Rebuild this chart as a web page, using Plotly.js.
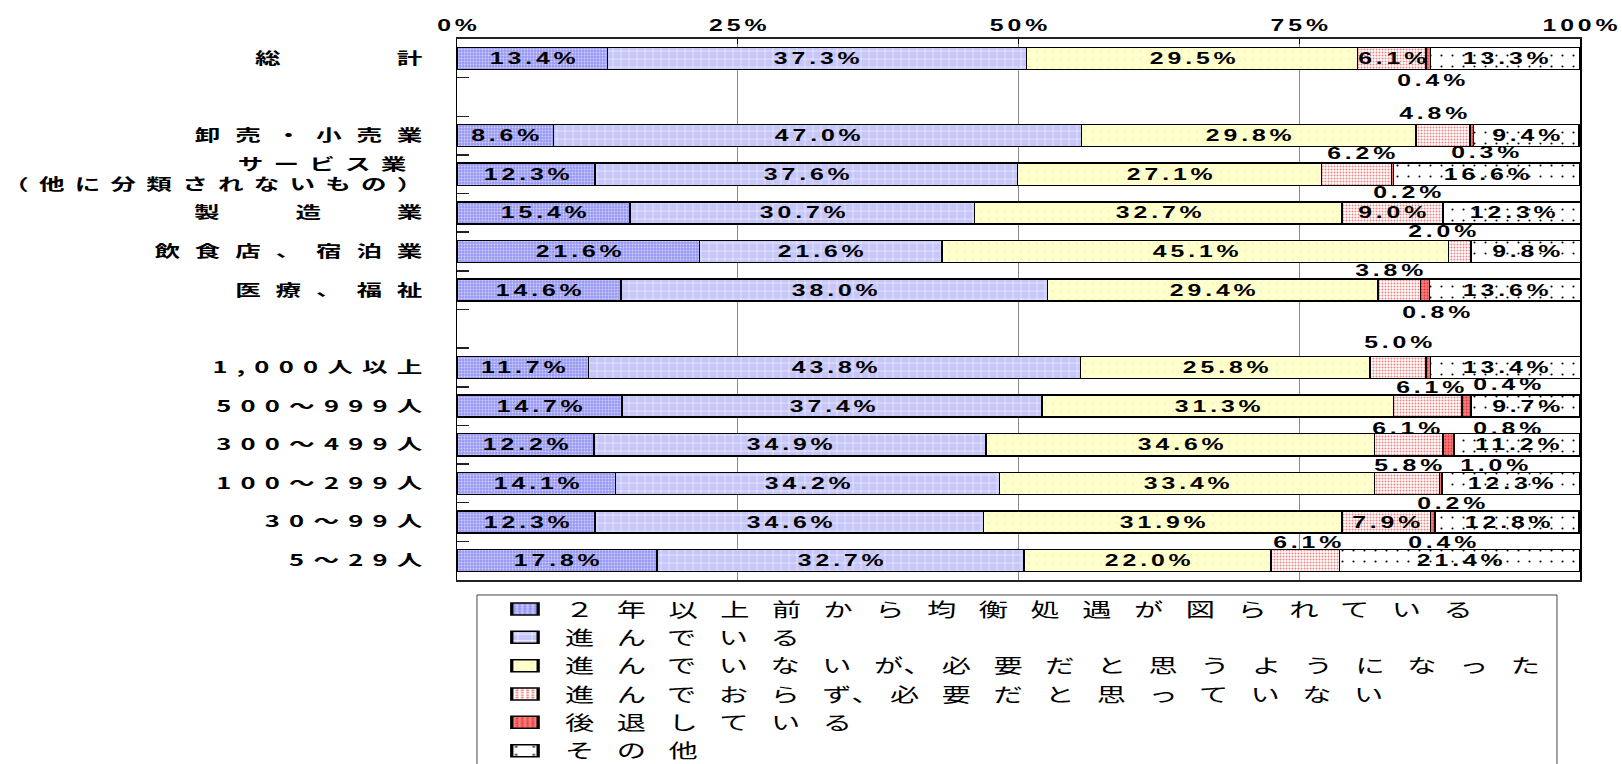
<!DOCTYPE html>
<html>
<head>
<meta charset="utf-8">
<script src="https://cdn.plot.ly/plotly-3.0.1.min.js"></script>
<style>
  html, body { margin: 0; padding: 0; background: #ffffff; }
  #chart { width: 1622px; height: 764px; }
</style>
</head>
<body>
<div id="chart"></div>
<script>
// Rows (top to bottom); the full-width-space rows are empty spacer rows.
const categories = [
  '総　　\u00a0計',
  '\u3000',
  '卸売・小売業',
  'サービス業\u00a0<br>（他に分類されないもの）',
  '製　\u00a0造　\u00a0業',
  '飲食店、宿泊業',
  '医療、福祉',
  '\u3000\u3000',
  '1,000人以上',
  '500～999人',
  '300～499人',
  '100～299人',
  '30～99人',
  '5～29人'
];

// In the legend the ideographic comma hugs the preceding kana
const tight = ch => '<span style="letter-spacing:0px">' + ch + '</span><span style="letter-spacing:6.2px">、</span>';
const seriesNames = [
  '２年以上前から均衡処遇が図られている',
  '進んでいる',
  '進んでいない' + tight('が') + '必要だと思うようになった',
  '進んでおら' + tight('ず') + '必要だと思っていない',
  '後退している',
  'その他'
];

// Shares (%) per row, null for spacer rows
const established  = [13.4, null,  8.6, 12.3, 15.4, 21.6, 14.6, null, 11.7, 14.7, 12.2, 14.1, 12.3, 17.8];
const progressing  = [37.3, null, 47.0, 37.6, 30.7, 21.6, 38.0, null, 43.8, 37.4, 34.9, 34.2, 34.6, 32.7];
const nowNeeded    = [29.5, null, 29.8, 27.1, 32.7, 45.1, 29.4, null, 25.8, 31.3, 34.6, 33.4, 31.9, 22.0];
const notNeeded    = [ 6.1, null,  4.8,  6.2,  9.0,  2.0,  3.8, null,  5.0,  6.1,  6.1,  5.8,  7.9,  6.1];
const regressing   = [ 0.4, null,  0.3,  0.2,  0.0,  0.0,  0.8, null,  0.4,  0.8,  1.0,  0.2,  0.4,  0.0];
const otherShare   = [13.3, null,  9.4, 16.6, 12.3,  9.8, 13.6, null, 13.4,  9.7, 11.2, 12.3, 12.8, 21.4];

const xTickVals = [0, 25, 50, 75, 100];
const xTickText = ['0%', '25%', '50%', '75%', '100%'];

const seriesValues = [established, progressing, nowNeeded, notNeeded, regressing, otherShare];

// Fill styles for the six series
const seriesFills = [
  { bg: '#9898f2', fg: '#d0d0ff', shape: '.', size: 3, solidity: 0.35 },
  { bg: '#c6c6f8', fg: '#ffffff', shape: '+', size: 8, solidity: 0.12 },
  { bg: '#ffffcc', fg: '#f2f2c2', shape: '.', size: 8, solidity: 0.05 },
  { bg: '#ffffff', fg: '#f08484', shape: '.', size: 3, solidity: 0.36 },
  { bg: '#ff7a7a', fg: '#d83a3a', shape: '.', size: 3, solidity: 0.3 },
  { bg: '#ffffff', fg: '#000000', shape: '.', size: 11, solidity: 0.03 }
];

// Where the label of the 4th series goes: inside the bar or above it
const notNeededPlace = ['in', null, 'above', 'above', 'in', 'above', 'above', null,
                        'above', 'above', 'above', 'above', 'in', 'above'];
// Offsets of the labels drawn outside the bars: [dx px, distance px from bar centre]
const aboveOffset = [null, null, [-9.5, 22.4], [4.5, 20.8], null, [-18, 19.7], [-10, 19.8], null,
                     [0, 24.7], [2, 18.7], [-3, 16.5], [1, 17.5], null, [2, 18.3]];
const belowOffset = [[3, 21.9], null, [13, 17.3], [15, 17.9], null, null, [10.6, 22.5], null,
                     [79, 16.7], [40, 22], [45, 21.2], [10, 19.8], [9, 20.5], null];

const numFont = { family: 'Liberation Sans, Arial, sans-serif', size: 16, weight: 'bold', color: '#000000' };
const jpFont = 'Noto Sans CJK JP, sans-serif';

const traces = seriesValues.map((vals, s) => ({
  type: 'bar',
  orientation: 'h',
  name: seriesNames[s],
  y: categories,
  x: vals,
  hoverinfo: 'skip',
  marker: {
    color: seriesFills[s].bg,
    line: { color: '#000000', width: 1.5 },
    pattern: {
      shape: seriesFills[s].shape,
      bgcolor: seriesFills[s].bg,
      fgcolor: seriesFills[s].fg,
      size: seriesFills[s].size,
      solidity: seriesFills[s].solidity,
      fillmode: 'replace'
    }
  }
}));

// Percentage labels, placed from the same values the bars use
const annotations = [];
categories.forEach((cat, r) => {
  let cum = 0;
  seriesValues.forEach((vals, s) => {
    const v = vals[r];
    if (v === null) return;
    const centre = cum + v / 2;
    cum += v;
    if (!(v > 0)) return;
    let xshift = 0, yshift = 0;
    if (s === 3 && notNeededPlace[r] === 'above') {
      xshift = aboveOffset[r][0];
      yshift = aboveOffset[r][1];
    } else if (s === 4) {
      xshift = belowOffset[r][0];
      yshift = -belowOffset[r][1];
    }
    annotations.push({
      x: centre, y: cat, xref: 'x', yref: 'y',
      text: v.toFixed(1) + '%', showarrow: false,
      xshift: xshift, yshift: yshift,
      font: numFont
    });
  });
});

const layout = {
  width: 1622,
  height: 764,
  margin: { l: 457, r: 42, t: 39, b: 184, autoexpand: false },
  paper_bgcolor: '#ffffff',
  plot_bgcolor: '#ffffff',
  barmode: 'stack',
  bargap: 0.43,
  showlegend: true,
  xaxis: {
    side: 'top', range: [0, 100],
    tickmode: 'array', tickvals: xTickVals, ticktext: xTickText,
    ticks: 'inside', ticklen: 5, tickwidth: 1, tickcolor: '#000000',
    ticklabelstandoff: 3.5,
    showgrid: true, gridcolor: '#8a8a8a', gridwidth: 1, zeroline: false,
    showline: true, linecolor: '#222222', linewidth: 2, mirror: true,
    tickfont: numFont, fixedrange: true
  },
  yaxis: {
    type: 'category', categoryorder: 'array', categoryarray: categories,
    range: [13.5, -0.5],
    tickson: 'boundaries', ticks: 'inside', ticklen: 12, tickwidth: 1.5, tickcolor: '#222222',
    ticklabelstandoff: 30,
    showgrid: false, zeroline: false,
    showline: true, linecolor: '#000000', linewidth: 1.5, mirror: true,
    tickfont: { family: jpFont, size: 15.5, weight: 'bold', color: '#000000' },
    fixedrange: true
  },
  legend: {
    x: 0.0249, y: -0.0181, xanchor: 'left', yanchor: 'top',
    orientation: 'v', traceorder: 'normal', itemwidth: 70,
    bgcolor: 'rgba(0,0,0,0)', borderwidth: 0,
    font: { family: jpFont, size: 19.5, color: '#000000' }
  },
  shapes: [{
    type: 'rect', xref: 'paper', yref: 'paper',
    x0: 0.0178, x1: 0.9795, y0: -0.5, y1: -0.0277,
    line: { color: '#444444', width: 1 },
    fillcolor: 'rgba(0,0,0,0)', layer: 'below'
  }],
  annotations: annotations
};

// Wide, spaced-out lettering: letter-spacing plus a horizontal stretch about each text's anchor
const textStyles = [
  { sel: '.xtick text, .annotation-text', sx: 1.55, ls: 2.5 },
  { sel: '.ytick text', sx: 1.65, ls: 9 },
  { sel: '.legendtext', sx: 1.5, ls: 15 }
];

function addTransform(el, extra) {
  const cur = el.getAttribute('transform') || '';
  if (el.dataset.widened && el.dataset.widened === cur) return;
  const nt = cur + extra;
  el.setAttribute('transform', nt);
  el.dataset.widened = nt;
}

function widenText(el, sx, ls) {
  el.style.letterSpacing = ls + 'px';
  const anchor = el.getAttribute('text-anchor') || 'start';
  const ax = parseFloat(el.getAttribute('x')) || 0;
  let comp = 0;
  if (anchor === 'end') comp = ls;
  else if (anchor === 'middle') comp = ls / 2;
  addTransform(el, ' translate(' + ax + ',0) scale(' + sx + ',1) translate(' + (-ax + comp) + ',0)');
}

function finish(gd) {
  textStyles.forEach(st => {
    gd.querySelectorAll(st.sel).forEach(el => {
      let ls = st.ls;
      if (st.sel === '.ytick text') {
        const txt = el.textContent;
        if (txt.indexOf('（') >= 0) ls = 6.2;
        else if (/^[0-9]/.test(txt)) ls = 5.6;
      }
      widenText(el, st.sx, ls);
    });
  });
  gd.querySelectorAll('.legend .scrollbox').forEach(n => n.removeAttribute('clip-path'));
  gd.querySelectorAll('.legend .legendpoints path').forEach(p => addTransform(p, ' scale(2.2,1)'));
}

Plotly.newPlot('chart', traces, layout, { displayModeBar: false, staticPlot: true }).then(gd => {
  finish(gd);
  setTimeout(() => finish(gd), 300);
});
</script>
</body>
</html>
